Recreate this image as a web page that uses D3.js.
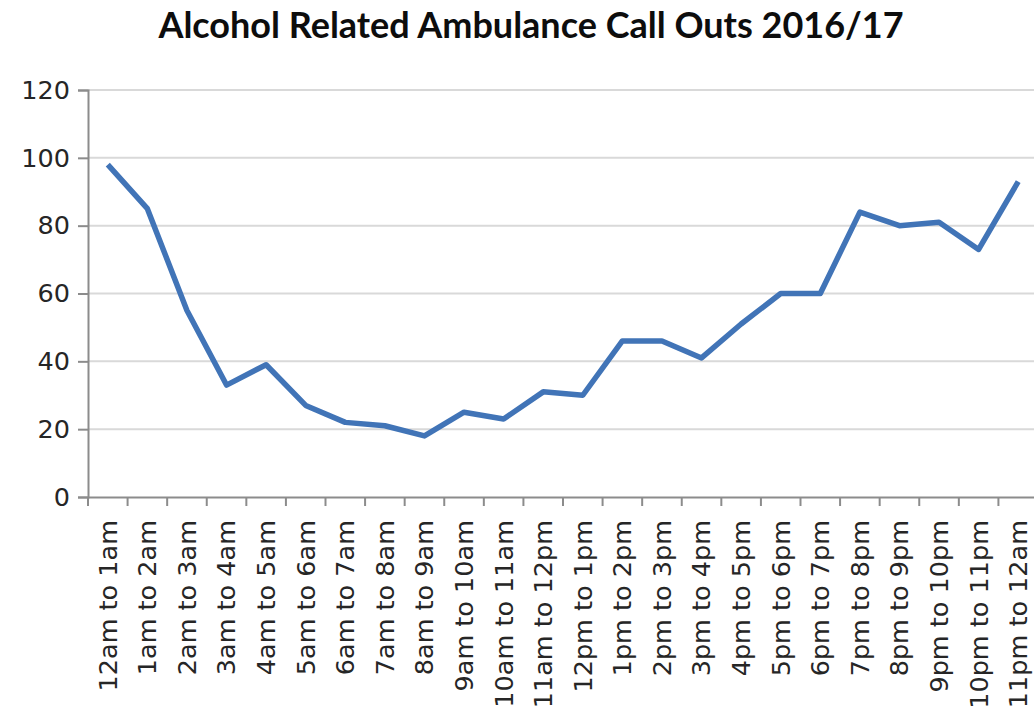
<!DOCTYPE html>
<html>
<head>
<meta charset="utf-8">
<script src="https://cdn.jsdelivr.net/npm/d3@7"></script>
<style>
  body { margin: 0; background: #fff; }
  svg { display: block; }
</style>
</head>
<body>
<div id="chart"></div>
<script>
var hours = ["12am to 1am","1am to 2am","2am to 3am","3am to 4am","4am to 5am","5am to 6am",
  "6am to 7am","7am to 8am","8am to 9am","9am to 10am","10am to 11am","11am to 12pm",
  "12pm to 1pm","1pm to 2pm","2pm to 3pm","3pm to 4pm","4pm to 5pm","5pm to 6pm",
  "6pm to 7pm","7pm to 8pm","8pm to 9pm","9pm to 10pm","10pm to 11pm","11pm to 12am"];
var callOuts = [98, 85, 55, 33, 39, 27, 22, 21, 18, 25, 23, 31,
  30, 46, 46, 41, 51, 60, 60, 84, 80, 81, 73, 93];
var yTicks = [0, 20, 40, 60, 80, 100, 120];
var title = "Alcohol Related Ambulance Call Outs 2016/17";

var W = 1034, H = 710,
    m = {t:90, r:-4, b:213, l:88};

var svg = d3.select("#chart")
  .append("svg")
  .attr("width", W)
  .attr("height", H);

var x = d3.scaleBand()
  .domain(hours)
  .range([m.l, W - m.r]);

var y = d3.scaleLinear()
  .domain([0, 120])
  .range([H - m.b, m.t]);

// gridlines
svg.append("g")
  .selectAll("line")
  .data(yTicks.slice(1))
  .enter()
  .append("line")
  .attr("x1", m.l)
  .attr("x2", W)
  .attr("y1", function(d){ return y(d); })
  .attr("y2", function(d){ return y(d); })
  .style("stroke", "#d9d9d9")
  .style("stroke-width", 2);

// y axis
var yAxis = svg.append("g")
  .attr("transform", "translate(" + m.l + ",0)")
  .call(d3.axisLeft(y).tickValues(yTicks).tickSize(10).tickPadding(8));

// x axis, ticks on band edges
var xAxis = svg.append("g")
  .attr("transform", "translate(0," + y(0) + ")")
  .call(d3.axisBottom(x).tickSize(0).tickPadding(0));

xAxis.selectAll(".tick text")
  .attr("transform", "rotate(-90)")
  .attr("x", -23)
  .attr("y", 0)
  .attr("dy", "0.35em")
  .style("text-anchor", "end");

xAxis.selectAll(".edge")
  .data(hours)
  .enter()
  .append("line")
  .attr("class", "edge")
  .attr("x1", function(d){ return x(d); })
  .attr("x2", function(d){ return x(d); })
  .attr("y1", 0)
  .attr("y2", 9);

svg.selectAll(".domain, .tick line, .edge")
  .style("stroke", "#8c8c8c")
  .style("stroke-width", 2);

svg.selectAll(".tick text")
  .attr("fill", "#262626")
  .attr("font-family", "DejaVu Sans, sans-serif")
  .attr("font-size", "25.5px");

// line
var line = d3.line()
  .x(function(d, i){ return x(hours[i]) + x.bandwidth() / 2; })
  .y(function(d){ return y(d); });

svg.append("path")
  .datum(callOuts)
  .attr("d", line)
  .style("fill", "none")
  .style("stroke", "#4174b7")
  .style("stroke-width", 5.5)
  .style("stroke-linejoin", "round");

// title
svg.append("text")
  .attr("x", 531)
  .attr("y", 38)
  .attr("text-anchor", "middle")
  .attr("font-family", "Lato, sans-serif")
  .attr("font-weight", "bold")
  .attr("font-size", "36px")
  .attr("fill", "#0d0d0d")
  .text(title);
</script>
</body>
</html>
